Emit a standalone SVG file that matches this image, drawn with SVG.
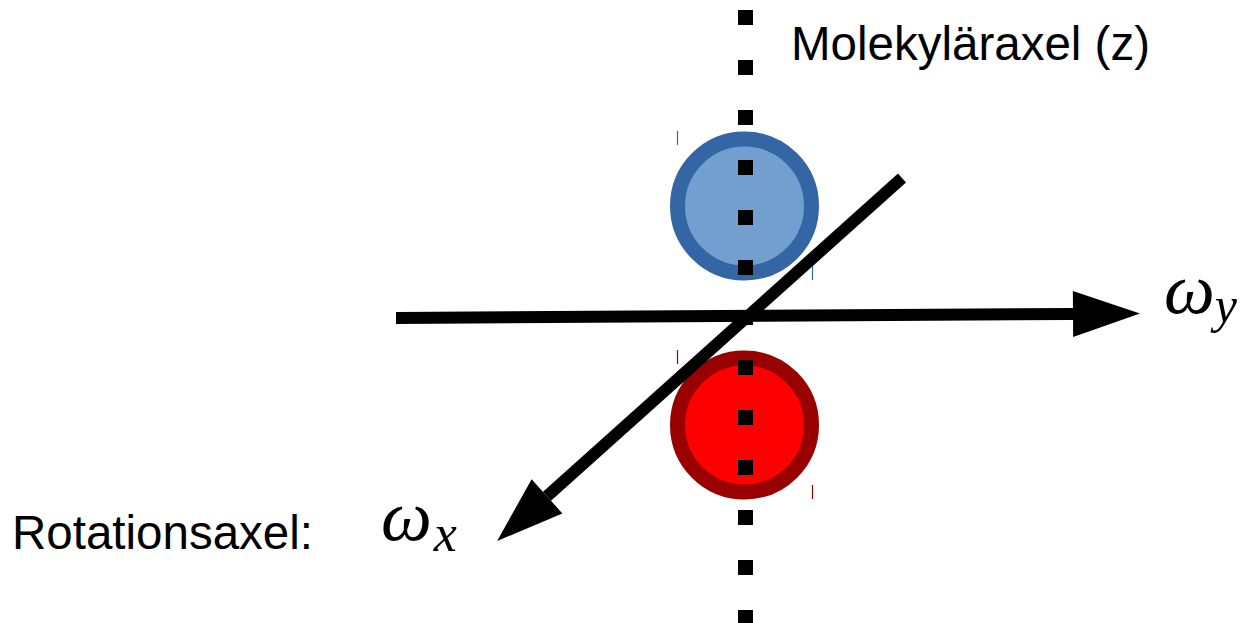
<svg xmlns="http://www.w3.org/2000/svg" width="1246" height="623" viewBox="0 0 1246 623">
<style>
.lbl{font-family:"Liberation Sans",Arial,sans-serif;font-size:47.5px;fill:#000}
.math{font-family:"Liberation Serif","DejaVu Serif",serif;font-style:italic;fill:#000}
.axis{stroke:#000;stroke-width:12;fill:none}
.tick{stroke-width:1.2;fill:none}
</style>
<defs>
<marker id="arr" markerUnits="userSpaceOnUse" markerWidth="68" markerHeight="46" refX="0" refY="23" orient="auto" overflow="visible">
<path d="M0,0 L67,23 L0,46 Z" fill="#000"/>
</marker>
</defs>
<rect width="1246" height="623" fill="#fff"/>
<g id="atom-blue">
<circle cx="744.5" cy="206" r="67" fill="#729fcf" stroke="#3465a4" stroke-width="15"/>
<line class="tick" x1="677.5" y1="131" x2="677.5" y2="145" stroke="#3465a4"/>
<line class="tick" x1="812.5" y1="266" x2="812.5" y2="280" stroke="#3465a4"/>
</g>
<g id="atom-red">
<circle cx="744.5" cy="425" r="67" fill="#ff0000" stroke="#990000" stroke-width="15"/>
<line class="tick" x1="677.5" y1="350" x2="677.5" y2="364" stroke="#990000"/>
<line class="tick" x1="812.5" y1="485" x2="812.5" y2="499" stroke="#990000"/>
</g>
<g id="connectors">
<line id="z-axis" x1="745.5" y1="10" x2="745.5" y2="623" stroke="#000" stroke-width="15" stroke-dasharray="15 35"/>
<line id="wy-axis" class="axis" x1="396" y1="318" x2="1073" y2="314" marker-end="url(#arr)"/>
<line id="wx-axis" class="axis" x1="902" y1="178" x2="547" y2="496.3" marker-end="url(#arr)"/>
</g>
<g id="label-z"><text class="lbl" x="791" y="60">Molekyläraxel (z)</text></g>
<g id="label-rot"><text class="lbl" x="12" y="549" font-size="48">Rotationsaxel:</text></g>
<g id="label-wy"><text class="math" x="1164" y="313" font-size="72">ω<tspan font-size="50" dy="9">y</tspan></text></g>
<g id="label-wx"><text class="math" x="381" y="540" font-size="72">ω<tspan font-size="52" dx="2" dy="11">x</tspan></text></g>
</svg>
